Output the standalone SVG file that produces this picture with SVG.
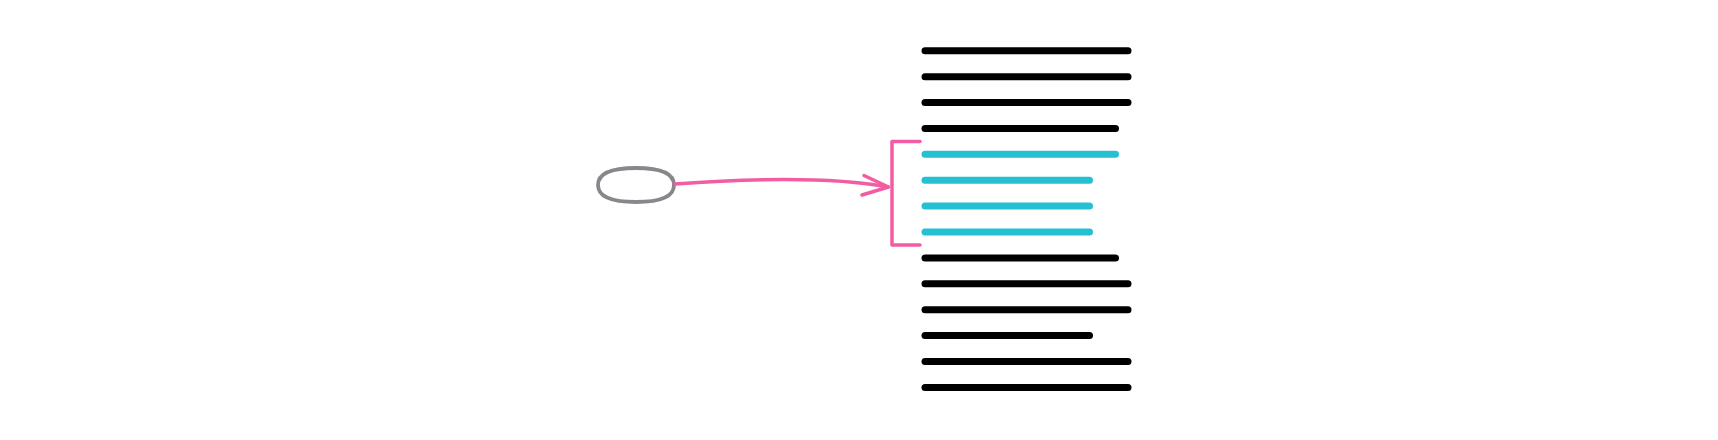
<svg xmlns="http://www.w3.org/2000/svg" width="1718" height="440" viewBox="0 0 1718 440">
<style>
.bar{stroke-width:7;stroke-linecap:round;fill:none}
.k{stroke:#000}
.c{stroke:#26c0d3}
.pk{stroke:#f25ca2;stroke-width:3.5;fill:none;stroke-linecap:round;stroke-linejoin:round}
</style>
<rect width="1718" height="440" fill="#fff"/>
<g id="node-oval">
<path d="M636 168 C663 168 674 175 674 185 C674 196 663 202 636 202 C609 202 598 196 598 185 C598 175 609 168 636 168 Z" fill="#fff" stroke="#87878c" stroke-width="3.8"/>
</g>
<g id="node-lines">
<line class="bar k" x1="925" y1="50.7" x2="1128" y2="50.7"/>
<line class="bar k" x1="925" y1="76.7" x2="1128" y2="76.7"/>
<line class="bar k" x1="925" y1="102.5" x2="1128" y2="102.5"/>
<line class="bar k" x1="925" y1="128.4" x2="1115.5" y2="128.4"/>
<line class="bar c" x1="925" y1="154.3" x2="1115.5" y2="154.3"/>
<line class="bar c" x1="925" y1="180.2" x2="1089.5" y2="180.2"/>
<line class="bar c" x1="925" y1="206.1" x2="1089.5" y2="206.1"/>
<line class="bar c" x1="925" y1="232" x2="1089.5" y2="232"/>
<line class="bar k" x1="925" y1="257.9" x2="1115.5" y2="257.9"/>
<line class="bar k" x1="925" y1="283.8" x2="1128" y2="283.8"/>
<line class="bar k" x1="925" y1="309.7" x2="1128" y2="309.7"/>
<line class="bar k" x1="925" y1="335.6" x2="1089.5" y2="335.6"/>
<line class="bar k" x1="925" y1="361.5" x2="1128" y2="361.5"/>
<line class="bar k" x1="925" y1="387.4" x2="1128" y2="387.4"/>
</g>
<g id="node-bracket">
<path class="pk" d="M920 141.5 H892 V245 H920"/>
</g>
<g id="connectors">
<path class="pk" d="M675 184 C740 179 830 176 888 187"/>
<path class="pk" d="M864 175.5 L888.5 187 L862 195"/>
</g>
</svg>
